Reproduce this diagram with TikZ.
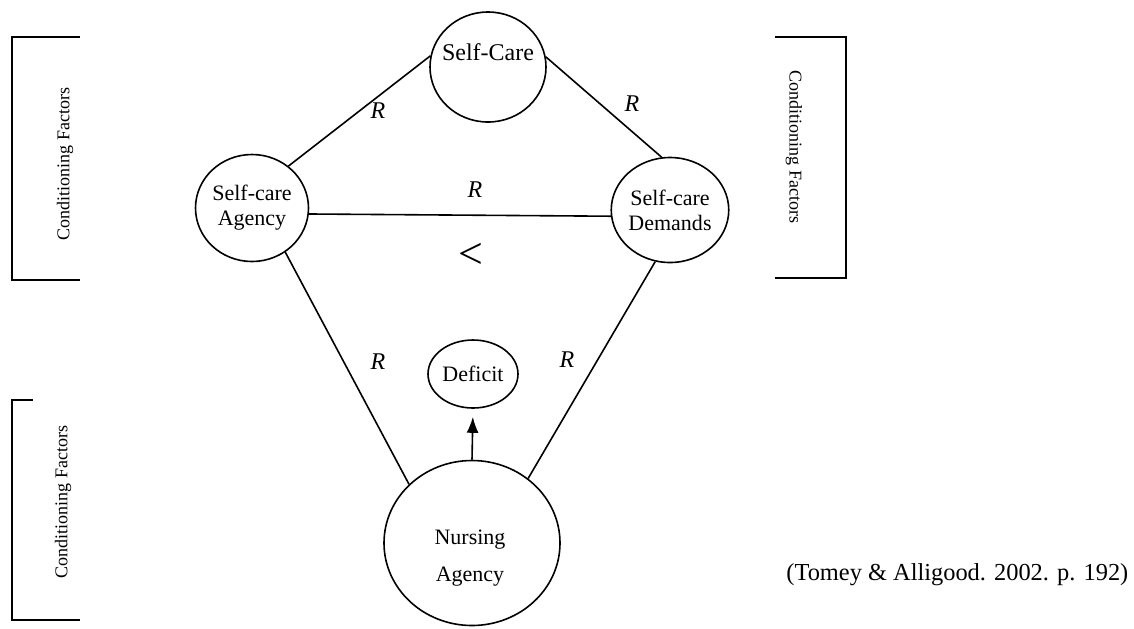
\documentclass[tikz,border=0pt]{standalone}
\usepackage{fontspec}
\setmainfont{Liberation Serif}
\usetikzlibrary{shapes.geometric,arrows.meta}

\begin{document}
\begin{tikzpicture}[x=0.5pt,y=-0.5pt,
  ring/.style={draw,thick,ellipse,inner sep=0pt,align=center,font=\fontsize{11}{12.5}\selectfont},
  rel/.style={font=\fontsize{12}{12}\selectfont\itshape},
  side/.style={font=\fontsize{9}{9}\selectfont}]

\useasboundingbox (0,0) rectangle (1134,628);

\node[ring,minimum width=58pt,minimum height=55pt] (care) at (488,67) {};
\node[font=\fontsize{12}{12}\selectfont] (caretext) at (488,52) {Self-Care};
\node[ring,minimum width=56.5pt,minimum height=53.5pt] (agency) at (252,208) {Self-care\\Agency};
\node[ring,minimum width=57pt,minimum height=52.5pt] (demands) at (670,210) {Self-care\\Demands};
\node[ring,minimum width=45pt,minimum height=34pt] (deficit) at (473,374) {Deficit};
\node[ring,minimum width=88pt,minimum height=82.5pt] (nursing) at (472,543) {};
\node[align=center,font=\fontsize{11}{12.5}\selectfont] (nursingtext) at (470,558) {Nursing\\[6pt]Agency};

\draw[thick] (care.169) -- (agency.49);
\draw[thick] (care.10) -- (demands.99);
\draw[thick] (agency.-6) -- (demands.186);
\draw[thick] (agency.-53) -- (nursing.137);
\draw[thick] (demands.-106) -- (nursing.49);
\draw[thick,-{Latex[length=8pt,width=6pt]},shorten >=4pt] (nursing.north) -- (deficit.south);

\node[rel] (r1) at (378,111) {R};
\node[rel] (r2) at (632,104) {R};
\node[rel] (r3) at (475,190) {R};
\node[rel] (r4) at (378,362) {R};
\node[rel] (r5) at (567,360) {R};
\node[font=\fontsize{22}{22}\selectfont] (less) at (471,256) {<};

\draw[thick] (80,37) -- (12,37) -- (12,280) -- (80,280);
\draw[thick] (775,37) -- (846,37) -- (846,278) -- (775,278);
\draw[thick] (33,400) -- (12,400) -- (12,620) -- (80,620);

\node[side,rotate=90] (cf1) at (65,164) {Conditioning Factors};
\node[side,rotate=-90] (cf2) at (794,147) {Conditioning Factors};
\node[side,rotate=90] (cf3) at (63,502) {Conditioning Factors};

\node[anchor=west,inner sep=0pt,font=\fontsize{12.2}{12.2}\selectfont] (cite) at (786,575) {(Tomey \& Alligood. 2002. p. 192)};

\end{tikzpicture}
\end{document}
